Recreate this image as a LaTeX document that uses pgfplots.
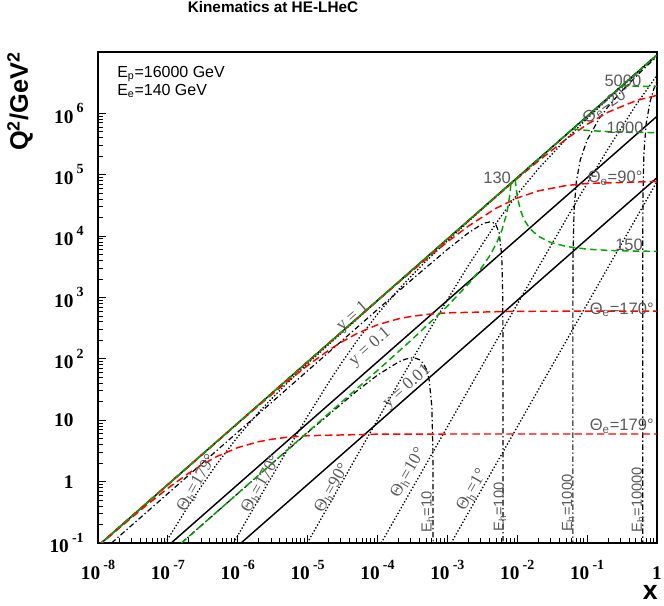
\documentclass[border=0pt]{standalone}
\usepackage{fontspec}
\setmainfont{Liberation Serif}
\newfontfamily\hv{Liberation Sans}
\usepackage{pgfplots}
\pgfplotsset{compat=1.18}
\definecolor{rootred}{RGB}{255,0,0}
\definecolor{rootgreen}{RGB}{0,165,0}
\definecolor{labgray}{RGB}{90,90,90}

% ROOT-like tick labels
\newcommand{\tkf}{\fontsize{14.5}{14.5}\selectfont\bfseries}
\newcommand{\tke}{\fontsize{10.5}{10.5}\selectfont\bfseries}
\newcommand{\tk}[1]{{\tkf 10\,\raisebox{0.55em}{\tke #1}}}
\newcommand{\tko}[1]{{\tkf #1\hphantom{\,\tke 0}}}
\newcommand{\slab}{\hv\fontsize{12.4}{12.4}\selectfont\color{labgray}}
\newcommand{\rlab}{\fontsize{13}{13}\selectfont\color{labgray}}

\begin{document}
\begin{tikzpicture}
\path[use as bounding box] (-73.5pt,-47.25pt) rectangle (424.5pt,407.25pt);
\begin{axis}[
  at={(0,0)}, anchor=south west,
  scale only axis, width=419.25pt, height=368.25pt,
  xmode=log, ymode=log,
  xmin=1e-8, xmax=1, ymin=0.1, ymax=1e7,
  xtick={1e-8,1e-7,1e-6,1e-5,1e-4,1e-3,1e-2,1e-1,1},
  xticklabels={\tk{-8},\tk{-7},\tk{-6},\tk{-5},\tk{-4},\tk{-3},\tk{-2},\tk{-1},{\tkf 1}},
  ytick={0.1,1,10,100,1e3,1e4,1e5,1e6},
  yticklabels={\tk{-1},\tko{1},\tko{10},\tk{2},\tk{3},\tk{4},\tk{5},\tk{6}},
  xticklabel style={anchor=base, inner sep=0pt, yshift=-27.75pt},
  yticklabel style={anchor=east, inner sep=0pt, xshift=-10.5pt},
  tick align=inside, xtick pos=left, ytick pos=left,
  major tick length=6pt, minor tick length=3.5pt,
  tick style={black, line width=0.7pt},
  axis line style={line width=1.2pt},
  clip=true,
]
% lines of constant y
\addplot[black, line width=1.1pt] coordinates {(1e-8,0.0896) (1,8.96e6)};
\addplot[black, line width=1.1pt] coordinates {(1.116e-7,0.1) (1,8.96e5)};
\addplot[black, line width=1.1pt] coordinates {(1.116e-6,0.1) (1,8.96e4)};

% constant hadron angle (dotted)
\pgfplotsset{hang/.style={black, line width=1pt, dash pattern=on 1pt off 1.5pt}}
\addplot[hang] coordinates {(9.2e-8,0.1) (1e-7,0.11691) (2e-7,0.41368) (3e-7,0.83446) (5e-7,1.9204) (1e-6,5.3769) (2e-6,13.442) (3e-6,21.994) (5e-6,39.531) (1e-5,84.00) (1e-4,890.07) (1e-3,8954) (1e-2,89594) (1,8.96e6)};
\addplot[hang] coordinates {(8.7e-7,0.09996) (1e-6,0.13181) (2e-6,0.51962) (3e-6,1.1524) (5e-6,3.1122) (1e-5,11.640) (2e-5,41.207) (3e-5,83.156) (5e-5,191.49) (1e-4,536.60) (2e-4,1342.5) (3e-4,2197.4) (5e-4,3950.8) (1e-3,8397.1) (3e-3,26293) (1e-2,89004) (0.1,895400) (1,8.9594e6)};
\addplot[hang] coordinates {(9.9e-6,0.10025) (2e-5,0.40866) (5e-5,2.5455) (1e-4,10.124) (2e-4,40.045) (5e-4,242.16) (1e-3,918.97) (2e-3,3334.0) (5e-3,16291) (1e-2,47787) (2e-2,124660) (5e-2,381270) (0.1,823910) (0.2,1.71689e6) (0.5,4.40294e6) (1,8.88231e6)};
\addplot[hang] coordinates {(1.13e-4,0.10007) (2e-4,0.31346) (5e-4,1.9586) (1e-3,7.8312) (2e-3,31.297) (5e-3,195.10) (1e-2,777.01) (2e-2,3081.3) (5e-2,18773) (0.1,72076) (0.2,266832) (0.5,1.36322e6) (1,4.18074e6)};
\addplot[hang] coordinates {(1.13e-3,0.099582) (2e-3,0.31194) (5e-3,1.94962) (1e-2,7.79788) (2e-2,31.189) (5e-2,194.88) (0.1,779.20) (0.2,3114.0) (0.5,19413) (1,77314)};

% constant hadron energy (dash-dot)
\pgfplotsset{hen/.style={black, line width=0.9pt, dash pattern=on 4pt off 2pt on 1pt off 2pt}}
\addplot[hen] coordinates {(1.5625e-7,0.1) (1e-6,0.63905) (1e-5,6.3048) (5e-5,29.609) (1e-4,54.382) (2e-4,89.076) (2.5e-4,98.824) (3e-4,103.38) (3.5e-4,102.67) (4e-4,96.575) (4.5e-4,85.01) (5e-4,67.879) (5.5e-4,45.074) (6e-4,16.491) (6.2e-4,3.4164) (6.24e-4,0.6878) (6.25e-4,0.09)};
\addplot[hen] coordinates {(1.5625e-8,0.1) (1e-7,0.64) (1e-6,6.3997) (1e-5,63.971) (1e-4,637.04) (3e-4,1892.7) (1e-3,6069.7) (2e-3,11283) (3e-3,15193) (3.5e-3,16427) (4e-3,16977) (4.5e-3,16602) (5e-3,14933) (5.5e-3,11372) (6e-3,4887.3) (6.2e-3,1089.3) (6.24e-3,222.76) (6.249e-3,22.389) (6.25e-3,0.09)};
\addplot[hen] coordinates {(0.0625,0.09) (0.062501,10.418) (0.06251,104.18) (0.06255,520.87) (0.0626,1041.6) (0.063,5202.6) (0.065,25884) (0.07,76800) (0.08,176056) (0.1,368219) (0.15,832566) (0.2,1.28836e6) (0.3,2.19193e6) (0.5,3.98982e6) (0.7,5.78431e6) (1,8.47415e6)};
\addplot[hen] coordinates {(0.625,0.09) (0.625001,9.087) (0.62501,90.87) (0.6251,908.7) (0.6255,4543.6) (0.626,9087.1) (0.63,45431) (0.65,227056) (0.7,680506) (0.8,1.58535e6) (0.9,2.48822e6) (1,3.38966e6)};

% constant electron angle (red dashed)
\pgfplotsset{eang/.style={rootred, line width=1.1pt, dash pattern=on 5.5pt off 3pt}}
\addplot[eang] coordinates {(1e-8,0.08827) (2e-8,0.17398) (5e-8,0.41674) (1e-7,0.77909) (2e-7,1.3783) (3e-7,1.8536) (5e-7,2.5596) (1e-6,3.5831) (2e-6,4.4786) (3e-6,4.8857) (5e-6,5.2687) (1e-5,5.5978) (1e-4,5.9313) (1e-3,5.9669) (1,5.971)};
\addplot[eang] coordinates {(1e-8,0.089587) (1e-7,0.89467) (1e-6,8.8276) (2e-6,17.400) (5e-6,41.688) (1e-5,77.96) (2e-5,137.99) (3e-5,185.65) (5e-5,256.51) (1e-4,359.39) (2e-4,449.56) (3e-4,490.58) (5e-4,529.21) (1e-3,562.43) (1e-2,596.1) (1,600.1)};
\addplot[eang] coordinates {(1e-8,0.0896) (1e-6,8.959) (1e-5,89.5) (1e-4,885.8) (2e-4,1751.9) (5e-4,4237.9) (1e-3,8041.0) (2e-3,14586) (5e-3,28510) (1e-2,41813) (2e-2,54540) (5e-2,66724) (0.1,72093) (1,77720)};
\addplot[eang] coordinates {(1e-8,0.0896) (1e-4,895.7) (1e-3,8928) (3e-3,26597) (1e-2,86523) (2e-2,167310) (5e-2,380420) (0.1,661080) (0.2,1.04756e6) (0.5,1.61347e6) (1,1.96781e6)};

% constant electron energy (green dashed)
\pgfplotsset{een/.style={rootgreen, line width=1.1pt, dash pattern=on 5pt off 3pt}}
\addplot[rootgreen, line width=1.1pt, dash pattern=on 5pt off 1.5pt] coordinates {(1e-8,0.0896) (1,8.96e6)};
\addplot[een] coordinates {(1.5625e-7,0.1) (1e-6,0.64) (1e-5,6.408) (1e-4,64.74) (3e-4,198.8) (1e-3,722.6) (2e-3,1659.3) (3e-3,2921.7) (4e-3,4715.8) (5e-3,7466.7) (6e-3,12218) (7e-3,22400) (7.5e-3,33600) (7.8e-3,45979) (8e-3,59733) (8.125e-3,72800)};
\addplot[een] coordinates {(0.009375,84000) (0.00942,78734) (0.0095,70933) (0.01,44800) (0.011,27378) (0.0125,18667) (0.015,13440) (0.02,9955.6) (0.03,7905.9) (0.05,6787.9) (0.1,6137.0) (0.2,5856.2) (0.5,5699.7) (1,5649.4)};
\addplot[een] coordinates {(0.0625,560000) (0.065,556516) (0.07,550400) (0.08,540740) (0.1,527780) (0.2,503630) (0.5,490180) (1,485850)};
\addplot[een] coordinates {(0.3125,2.8e6) (0.35,2.79136e6) (0.4,2.78247e6) (0.5,2.77008e6) (0.7,2.75607e6) (1,2.74562e6)};

% labels
\node[anchor=west, inner sep=0pt] at (rel axis cs:0.034,0.955) {\hv\fontsize{12}{12}\selectfont E\textsubscript{p}=16000 GeV};
\node[anchor=west, inner sep=0pt] at (rel axis cs:0.034,0.921) {\hv\fontsize{12}{12}\selectfont E\textsubscript{e}=140 GeV};

\node[inner sep=0pt] at (rel axis cs:0.939,0.941) {\slab 5000};
\node[inner sep=0pt, rotate=34] at (rel axis cs:0.911,0.892) {\slab Θ\textsubscript{e}=20°};
\node[inner sep=0pt] at (rel axis cs:0.943,0.845) {\slab 1000};
\node[inner sep=0pt] at (rel axis cs:0.714,0.743) {\slab 130};
\node[inner sep=0pt] at (rel axis cs:0.925,0.743) {\slab Θ\textsubscript{e}=90°};
\node[inner sep=0pt] at (rel axis cs:0.950,0.607) {\slab 150};
\node[inner sep=0pt] at (rel axis cs:0.937,0.475) {\slab Θ\textsubscript{e}=170°};
\node[inner sep=0pt] at (rel axis cs:0.937,0.238) {\slab Θ\textsubscript{e}=179°};

\node[inner sep=0pt, rotate=41.3] at (rel axis cs:0.456,0.460) {\rlab y = 1};
\node[inner sep=0pt, rotate=41.3] at (rel axis cs:0.487,0.399) {\rlab y = 0.1};
\node[inner sep=0pt, rotate=41.3] at (rel axis cs:0.553,0.318) {\rlab y = 0.01};

\node[inner sep=0pt, rotate=60] at (rel axis cs:0.177,0.122) {\rlab Θ\textsubscript{h}=179°};
\node[inner sep=0pt, rotate=60] at (rel axis cs:0.292,0.120) {\rlab Θ\textsubscript{h}=170°};
\node[inner sep=0pt, rotate=60] at (rel axis cs:0.419,0.112) {\rlab Θ\textsubscript{h}=90°};
\node[inner sep=0pt, rotate=60] at (rel axis cs:0.555,0.143) {\rlab Θ\textsubscript{h}=10°};
\node[inner sep=0pt, rotate=60] at (rel axis cs:0.669,0.108) {\rlab Θ\textsubscript{h}=1°};

\node[inner sep=0pt, rotate=90] at (rel axis cs:0.590,0.063) {\hv\fontsize{11}{11}\selectfont\color{labgray}E\textsubscript{h}=10};
\node[inner sep=0pt, rotate=90] at (rel axis cs:0.719,0.073) {\hv\fontsize{11}{11}\selectfont\color{labgray}E\textsubscript{h}=100};
\node[inner sep=0pt, rotate=90] at (rel axis cs:0.841,0.081) {\hv\fontsize{11}{11}\selectfont\color{labgray}E\textsubscript{h}=1000};
\node[inner sep=0pt, rotate=90] at (rel axis cs:0.966,0.088) {\hv\fontsize{11}{11}\selectfont\color{labgray}E\textsubscript{h}=10000};
\end{axis}
\node[anchor=base, inner sep=0pt] at (131.25pt,397.5pt) {\hv\bfseries\fontsize{11.5}{11.5}\selectfont Kinematics at HE-LHeC};
\node[rotate=90, anchor=east, inner sep=0pt] at (-58.5pt,368.25pt) {\hv\bfseries\fontsize{19}{19}\selectfont Q\textsuperscript{2}/GeV\textsuperscript{2}};
\node[anchor=base east, inner sep=0pt] at (420pt,-42.5pt) {\hv\bfseries\fontsize{20}{20}\selectfont x};
\end{tikzpicture}
\end{document}
